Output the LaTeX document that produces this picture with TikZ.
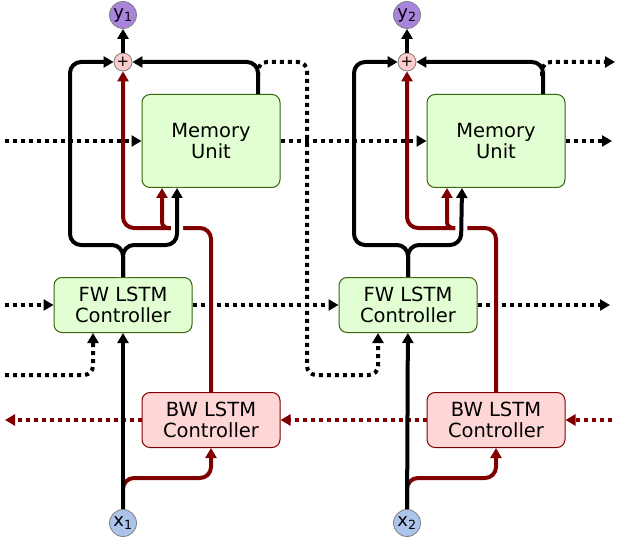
\documentclass[tikz,border=0pt]{standalone}
\usepackage{fontspec}
\setmainfont{DejaVu Sans}
\usetikzlibrary{arrows.meta,positioning}
\definecolor{MemGreen}{RGB}{226,255,212}
\definecolor{GreenLine}{RGB}{56,100,10}
\definecolor{BwPink}{RGB}{255,214,214}
\definecolor{DarkRed}{RGB}{128,0,0}
\definecolor{OutPurple}{RGB}{168,132,220}
\definecolor{InBlue}{RGB}{172,196,234}
\definecolor{SumPink}{RGB}{255,204,204}

\begin{document}
\begin{tikzpicture}[x=1pt, y=-1pt, line width=4pt, rounded corners=11pt,
        -{Triangle[length=10pt,width=11pt]},
        every node/.append style={font=\fontsize{19.5}{20.5}\selectfont, line width=1pt, align=center}]
      \tikzstyle{mem} = [draw=GreenLine, fill=MemGreen, rounded corners=8pt, minimum width=138pt, minimum height=93pt]
      \tikzstyle{fw} = [draw=GreenLine, fill=MemGreen, rounded corners=8pt, minimum width=138pt, minimum height=55pt]
      \tikzstyle{bw} = [draw=DarkRed, fill=BwPink, rounded corners=8pt, minimum width=138pt, minimum height=55pt]
      \tikzstyle{sum} = [circle, draw=gray, fill=SumPink, line width=0.8pt, minimum size=18pt, inner sep=0pt, font=\fontsize{15}{15}\selectfont]
      \tikzstyle{outnode} = [circle, draw=gray, fill=OutPurple, line width=0.8pt, minimum size=27pt, inner sep=0pt, font=\fontsize{18}{18}\selectfont]
      \tikzstyle{innode} = [circle, draw=gray, fill=InBlue, line width=0.8pt, minimum size=27pt, inner sep=0pt, font=\fontsize{18}{18}\selectfont]
      \tikzstyle{carry} = [dash pattern=on 4pt off 4pt, rounded corners=9pt]
      \tikzstyle{back} = [draw=DarkRed]
      \tikzstyle{cross} = [preaction={draw=white, line width=12pt, -}]
      \useasboundingbox (0,0) rectangle (618,540);
      % first step
      \node (y1) [outnode] at (123,15) {y\textsubscript{1}};
      \node (plus1) [sum] at (123,62) {+};
      \node (mem1) [mem] at (211,141) {Memory\\Unit};
      \node (fw1) [fw] at (123,305) {FW LSTM\\Controller};
      \node (bw1) [bw] at (211,420) {BW LSTM\\Controller};
      \node (x1) [innode] at (123,523) {x\textsubscript{1}};
      % second step
      \node (y2) [outnode] at (407,15) {y\textsubscript{2}};
      \node (plus2) [sum] at (407,62) {+};
      \node (mem2) [mem] [right=146pt of mem1] {Memory\\Unit};
      \node (fw2) [fw] [right=146pt of fw1] {FW LSTM\\Controller};
      \node (bw2) [bw] [right=146pt of bw1] {BW LSTM\\Controller};
      \node (x2) [innode] at (407,523) {x\textsubscript{2}};
      % loose ends
      \coordinate (memin) at (5,141);
      \coordinate (memout) at (612,141);
      \coordinate (fwin) at (5,305);
      \coordinate (fwout) at (610,305);
      \coordinate (hin) at (5,375);
      \coordinate (bwin) at (612,420);
      \coordinate (bwout) at (5,420);
      \coordinate (hout) at (615,62);
      \coordinate (tap1) at (258,76);
      \coordinate (tap2) at (542,76);

      % recurrent (dotted) links
      \draw[carry] (memin) -- (mem1.west);
      \draw[carry] (mem1.east) -- (mem2.west);
      \draw[carry] (mem2.east) -- (memout);
      \draw[carry] (fwin) -- (fw1.west);
      \draw[carry] (fw1.east) -- (fw2.west);
      \draw[carry] (fw2.east) -- (fwout);
      \draw[carry] (hin) -| ([xshift=-30pt]fw1.south);
      \draw[carry] (tap1) -- (258,62) -- (307,62) -- (307,375) -| ([xshift=-30pt]fw2.south);
      \draw[carry] (tap2) -- (542,62) -- (hout);
      \draw[carry,back] (bwin) -- (bw2.east);
      \draw[carry,back] (bw2.west) -- (bw1.east);
      \draw[carry,back] (bw1.west) -- (bwout);

      % backward controller
      \draw[back] (x1.north) -- (123,478) -| (bw1.south);
      \draw[back] (bw1.north) |- (123,228) -- (plus1.south);
      \draw[back, rounded corners=6pt] (171,228) -| ([xshift=-49pt]mem1.south);
      \draw[back] (x2.north) -- (407,478) -| (bw2.south);
      \draw[back] (bw2.north) |- (407,228) -- (plus2.south);
      \draw[back, rounded corners=6pt] (455,228) -| ([xshift=-49pt]mem2.south);

      % forward controller and memory
      \draw[cross] (fw1.north) |- (177,245) -- ([xshift=-34pt]mem1.south);
      \draw (fw1.north) |- (70,245) |- (plus1.west);
      \draw ([xshift=47pt]mem1.north) |- (plus1.east);
      \draw (plus1) -- (y1);
      \draw (x1) -- (fw1);
      \draw[cross] (fw2.north) |- (461,245) -- ([xshift=-34pt]mem2.south);
      \draw (fw2.north) |- (354,245) |- (plus2.west);
      \draw ([xshift=47pt]mem2.north) |- (plus2.east);
      \draw (plus2) -- (y2);
      \draw (x2) -- (fw2);
    \end{tikzpicture}
\end{document}
